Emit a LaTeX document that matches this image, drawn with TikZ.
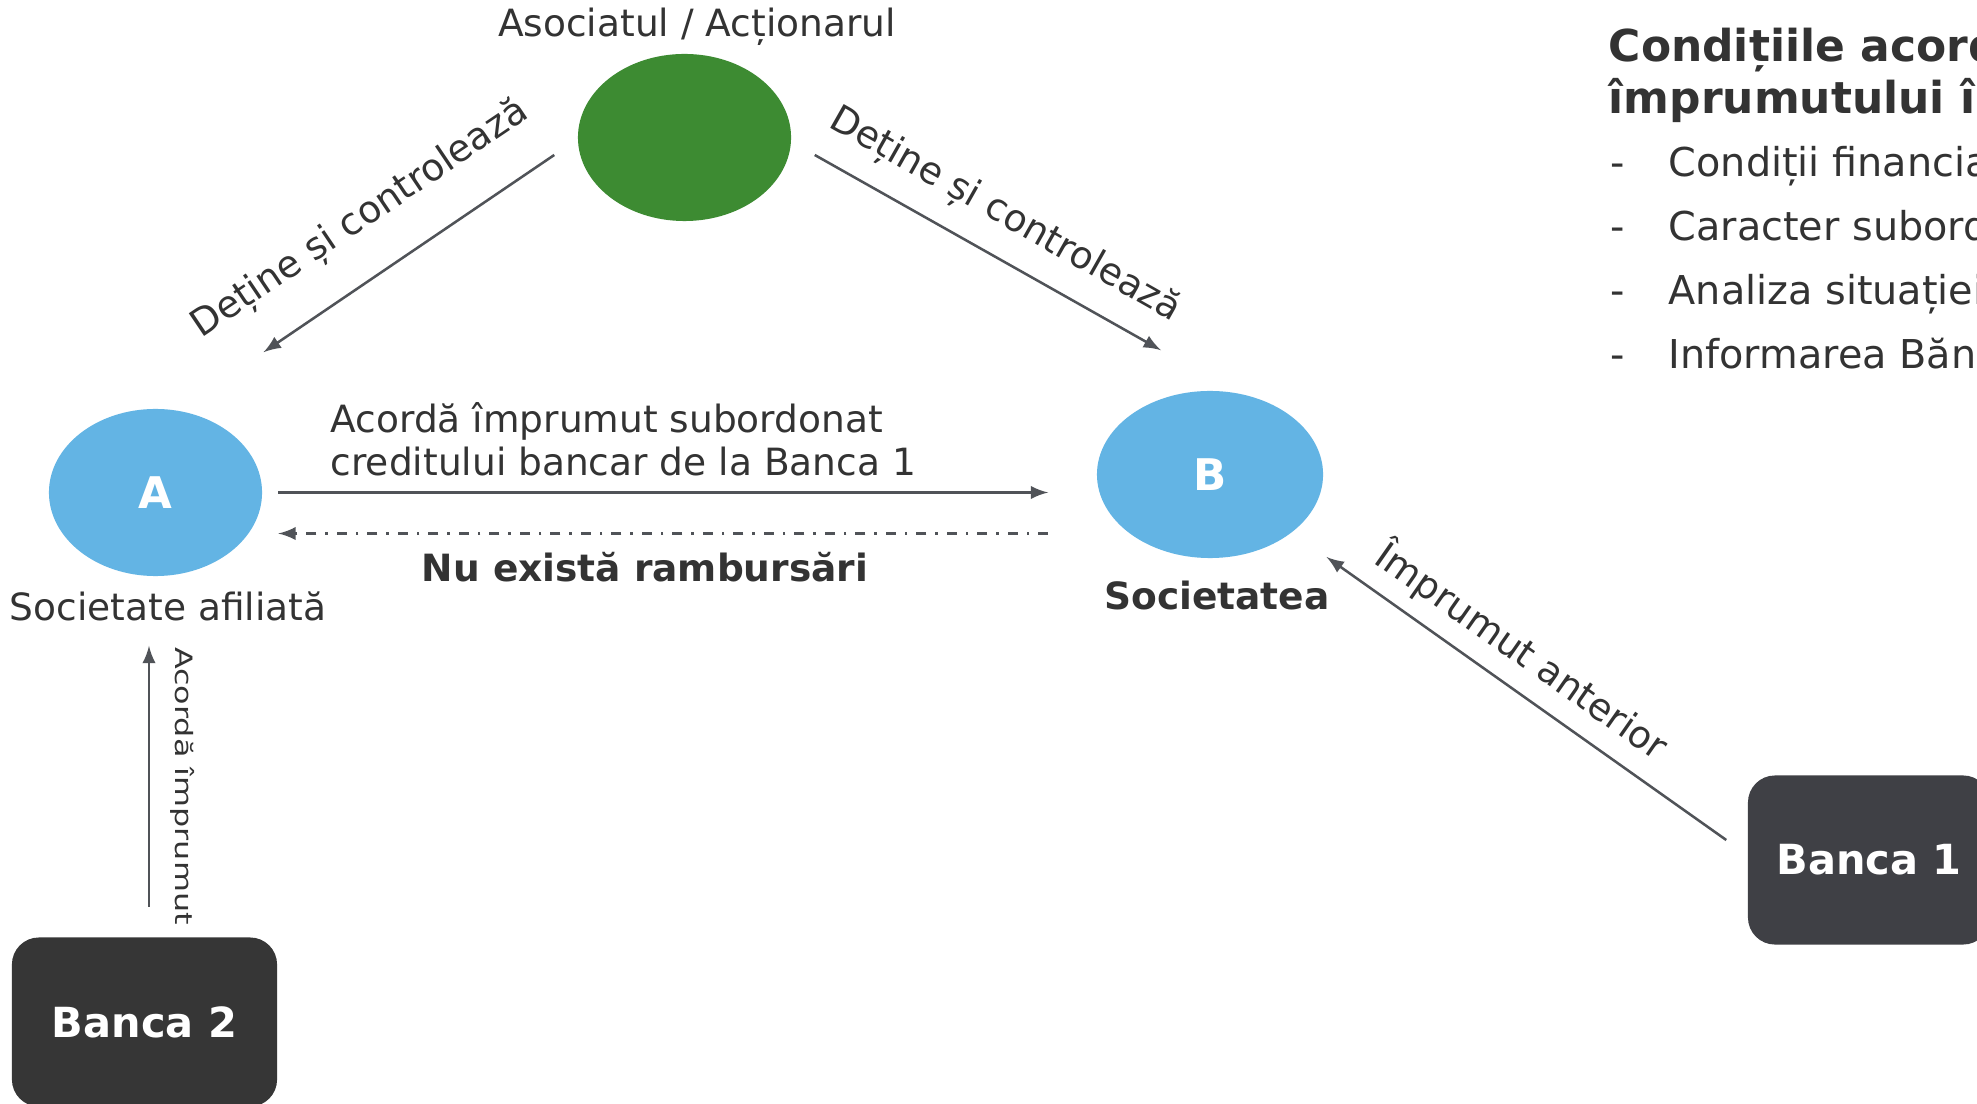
\documentclass[tikz,border=0pt]{standalone}
\usepackage{fontspec}
\setmainfont{DejaVu Sans}
\usepackage{xcolor}
\usepackage{graphicx}
\usepackage{tikz}
\usetikzlibrary{calc}
\usetikzlibrary{arrows}
\usetikzlibrary{shapes}
\usetikzlibrary{positioning}
\usetikzlibrary{shapes.geometric}
\definecolor{ownergreen}{RGB}{61,139,50}
\definecolor{firmblue}{RGB}{99,180,228}
\definecolor{bankdark}{RGB}{54,54,54}
\definecolor{bankgray}{RGB}{63,64,69}
\definecolor{txtgray}{RGB}{51,51,51}
\definecolor{linegray}{RGB}{80,83,88}
\tikzset{>=latex}
\tikzstyle{firm} = [ellipse, inner sep = 0, minimum height = 1.67cm, fill = firmblue, text = white, font = \fontsize{12.4}{14}\selectfont\bfseries]
\tikzstyle{bank} = [rectangle, rounded corners = 0.27cm, inner sep = 0, minimum width = 2.65cm, minimum height = 1.69cm, text = white, font = \fontsize{11.8}{14}\selectfont\bfseries]
\tikzstyle{lbl} = [draw = none, inner sep = 0, text = txtgray, font = \fontsize{10.67}{12.5}\selectfont]
\tikzstyle{arr} = [-latex, draw = linegray, line width = 0.72pt]
\tikzstyle{norepay} = [dash pattern = on 2.85pt off 2.56pt on 0.7pt off 2.56pt]

\begin{document}
\begin{tikzpicture}[x = 0.01cm, y = -0.01cm]
\path [use as bounding box, fill = white] (0, 0) rectangle (1977, 1104);
% entities
\node [ellipse, inner sep = 0, fill = ownergreen, minimum width = 2.13cm, minimum height = 1.67cm] (G) at (684.5, 137.5) {};
\node [lbl, anchor = base] (Gl) at (697, 37) {Asociatul / Acționarul};
\node [firm, minimum width = 2.13cm] (A) at (155.5, 492.5) {A};
\node [firm, minimum width = 2.26cm] (B) at (1210, 474.5) {B};
\node [lbl, anchor = base] (Al) at (168, 620) {Societate afiliată};
\node [lbl, anchor = base, font = \fontsize{10.67}{12.5}\selectfont\bfseries] (Bl) at (1217, 610) {Societatea};
\node [bank, fill = bankdark] (B2) at (144.5, 1022) {Banca 2};
\node [bank, fill = bankgray, minimum width = 2.42cm] (B1) at (1869, 860) {Banca 1};
\coordinate (t1) at ([shift = {(-21, -20)}]B1.west);
% conditions
\node [lbl, anchor = base west, align = left, font = \fontsize{12.5}{14.8}\selectfont\bfseries] (cond) at (1608, 114) {Condițiile acord\\împrumutului în};
\foreach \txt [count = \i] in {Condiții financia, Caracter subord, Analiza situației, Informarea Băn}
  \node [lbl, anchor = base west, font = \fontsize{11.3}{13}\selectfont] (c\i) at (1610, {177 + 63.7*(\i - 1)}) {\makebox[0.58cm][l]{-}\txt};
% ownership
\draw [arr] ([shift = {(-23, 17.5)}]G.west) to ([shift = {(108, -56)}]A.north);
\draw [arr] ([shift = {(23, 17.5)}]G.east) to ([shift = {(-49, -40)}]B.north);
\node [lbl, anchor = base, rotate = 34] (GAl) at (366, 228) {Deține și controlează};
\node [lbl, anchor = base, rotate = -29.5] (GBl) at (1000, 224) {Deține și controlează};
% loans
\draw [arr, shorten <= 0.155cm, shorten >= 0.48cm] (A.east) to (A.east -| B.west);
\draw [arr, norepay, shorten <= 0.48cm, shorten >= 0.155cm] ([yshift = -0.41cm]A.east -| B.west) to ([yshift = -0.41cm]A.east);
\node [lbl, anchor = base west, align = left] (ABl) at (330, 476) {Acordă împrumut subordonat\\creditului bancar de la Banca 1};
\node [lbl, anchor = base, font = \fontsize{10.67}{12.5}\selectfont\bfseries] (BAl) at (645, 582) {Nu există rambursări};
\draw [arr, shorten <= 0.30cm, shorten >= 0.69cm] ([xshift = 0.045cm]B2.north) to ([xshift = 0.045cm]B2.north |- A.south);
\node [lbl, anchor = base, rotate = -90, font = \fontsize{9.05}{10}\selectfont] (B2l) at (175, 786) {\scalebox{1}[0.75]{Acordă împrumut}};
\draw [arr, shorten >= 0.42cm] (t1) to (B);
\node [lbl, anchor = base, rotate = -35] (B1l) at (1514.5, 662) {Împrumut anterior};
\end{tikzpicture}
\end{document}
